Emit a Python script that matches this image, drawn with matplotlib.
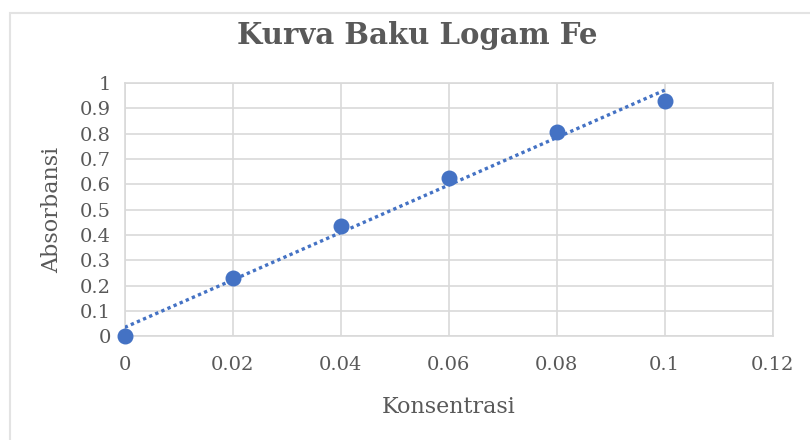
import numpy as np
import matplotlib.pyplot as plt
from matplotlib.patches import Rectangle

konsentrasi = [0, 0.02, 0.04, 0.06, 0.08, 0.1]
absorbansi = [0.0, 0.228, 0.435, 0.624, 0.806, 0.928]
x_ticks = [0, 0.02, 0.04, 0.06, 0.08, 0.1, 0.12]
x_labels = ['0', '0.02', '0.04', '0.06', '0.08', '0.1', '0.12']
y_ticks = [0, 0.1, 0.2, 0.3, 0.4, 0.5, 0.6, 0.7, 0.8, 0.9, 1]
y_labels = ['0', '0.1', '0.2', '0.3', '0.4', '0.5', '0.6', '0.7', '0.8', '0.9', '1']

plt.rcParams['font.family'] = ['DejaVu Serif']
txt = '#595959'
blue = '#4472c4'
grid = '#d9d9d9'

fig = plt.figure(figsize=(8.1, 4.4), dpi=100)
ax = fig.add_axes([0.154, 0.236, 0.8, 0.575])

# chart frame
fig.patches.append(Rectangle((10 / 810, -0.05), 1.0, 1 - 13 / 440 + 0.05,
                             transform=fig.transFigure, fill=False,
                             edgecolor='#e3e3e3', linewidth=1.5))

# linear trendline
m, b = np.polyfit(konsentrasi, absorbansi, 1)
xs = np.array([konsentrasi[0], konsentrasi[-1]])
ax.plot(xs, m * xs + b, color=blue, linestyle=(0, (1, 1)), linewidth=2.4, zorder=3)

ax.scatter(konsentrasi, absorbansi, s=110, color=blue, zorder=4, clip_on=False)

ax.set_xlim(0, 0.12)
ax.set_ylim(0, 1)
ax.set_xticks(x_ticks)
ax.set_xticklabels(x_labels)
ax.set_yticks(y_ticks)
ax.set_yticklabels(y_labels)
ax.grid(True, color=grid, linewidth=1.2)
ax.set_axisbelow(True)
for s in ax.spines.values():
    s.set_color(grid)
    s.set_linewidth(1.2)
ax.tick_params(length=0, labelsize=14, colors=txt)
ax.tick_params(axis='x', pad=14)
ax.tick_params(axis='y', pad=10)

ax.set_xlabel('Konsentrasi', fontsize=16, color=txt, labelpad=16)
ax.set_ylabel('Absorbansi', fontsize=16, color=txt, labelpad=12)
fig.text(0.515, 0.92, 'Kurva Baku Logam Fe', ha='center', va='center',
         fontsize=21, fontweight='bold', color=txt)

fig.savefig('out.png', dpi=100)
